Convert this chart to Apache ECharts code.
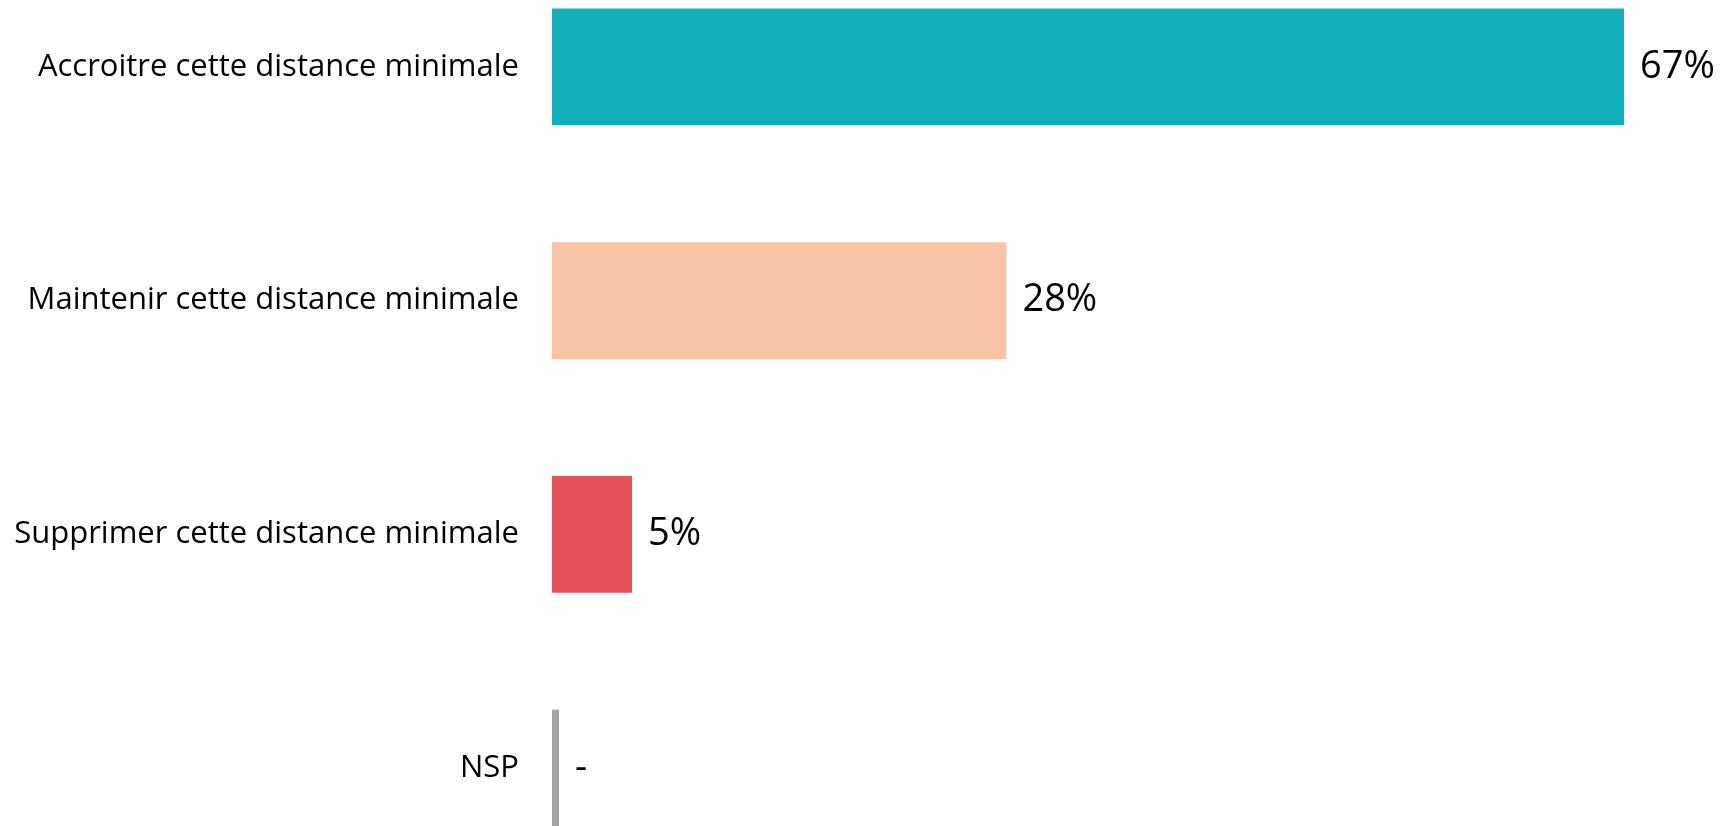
<!DOCTYPE html>
<html>
<head>
<meta charset="utf-8">
<script src="https://cdn.jsdelivr.net/npm/echarts@6/dist/echarts.min.js"></script>
<style>
html,body{margin:0;padding:0;background:#fff;}
#chart{width:1729px;height:826px;}
</style>
</head>
<body>
<div id="chart"></div>
<script>
const categories = ["Accroitre cette distance minimale", "Maintenir cette distance minimale", "Supprimer cette distance minimale", "NSP"];
const values = [67, 28.4, 5, 0];
const valueLabels = ["67%", "28%", "5%", "-"];
const colors = ["#13AFB8", "#F7C4A5", "#E75159", "#A6A6A6"];

const chart = echarts.init(document.getElementById('chart'), null, {renderer: 'canvas'});
chart.setOption({
  animation: false,
  backgroundColor: '#ffffff',
  grid: {left: 552, right: 57, top: -50, height: 935, containLabel: false, outerBoundsMode: 'none'},
  xAxis: {
    type: 'value', min: 0, max: 70,
    show: false
  },
  yAxis: {
    type: 'category', inverse: true, data: categories,
    axisLine: {show: false}, axisTick: {show: false}, splitLine: {show: false},
    axisLabel: {color: '#000', fontSize: 31, fontFamily: 'Open Sans', margin: 33}
  },
  series: [{
    type: 'bar',
    barWidth: '50%',
    barMinHeight: 7,
    data: values.map((v, i) => ({value: v, itemStyle: {color: colors[i]}})),
    label: {
      show: true, position: 'right', distance: 16,
      color: '#000', fontSize: 38, fontFamily: 'Open Sans',
      formatter: p => valueLabels[p.dataIndex]
    }
  }]
});
</script>
</body>
</html>
